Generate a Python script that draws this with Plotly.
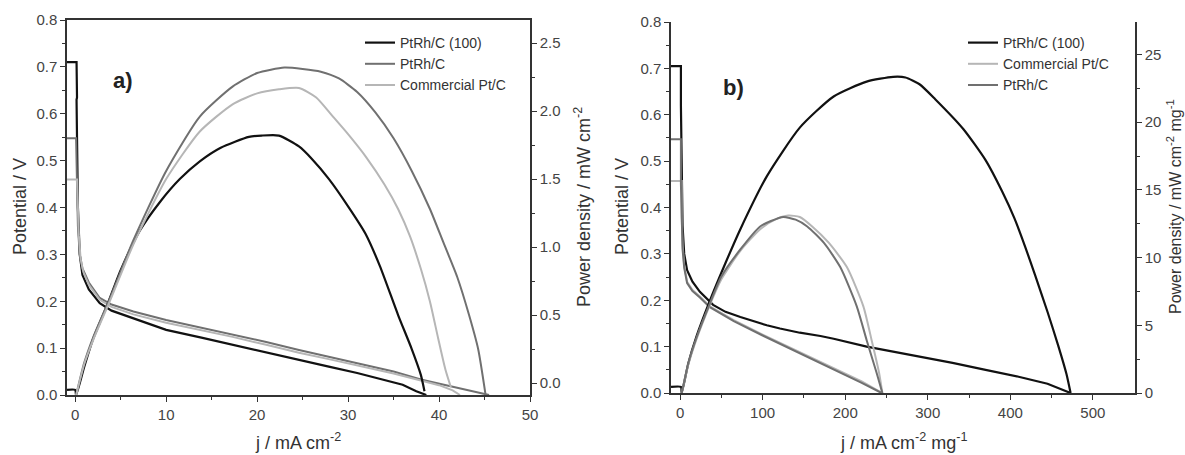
import plotly.graph_objects as go

# ---------------- Panel a data ----------------
# Potential (V) vs j (mA cm-2)
a_j_pot_100 = [-0.9, 0.15, 0.2, 0.15, 0.2, 0.3, 0.5, 0.8, 1.5, 2.7, 4, 6.4, 10, 14, 17.3, 21, 24.6, 28, 31, 34, 36, 37.5, 38.3, 38.6]
a_v_pot_100 = [0.71, 0.71, 0.635, 0.63, 0.55, 0.40, 0.30, 0.256, 0.225, 0.196, 0.18, 0.164, 0.139, 0.122, 0.107, 0.091, 0.075, 0.06, 0.047, 0.032, 0.022, 0.008, 0.002, 0.0]
a_j_pot_rh = [-0.9, 0.1, 0.2, 0.3, 0.5, 0.8, 1.5, 2.7, 4, 6.4, 10, 14, 17.3, 21, 24.6, 28, 31, 35, 38, 41, 43, 45, 45.5]
a_v_pot_rh = [0.548, 0.548, 0.45, 0.36, 0.30, 0.27, 0.24, 0.207, 0.193, 0.178, 0.16, 0.143, 0.13, 0.113, 0.096, 0.081, 0.068, 0.05, 0.033, 0.02, 0.011, 0.003, 0.0]
a_j_pot_pt = [-0.9, 0.2, 0.3, 0.4, 0.6, 0.9, 1.5, 2.7, 4, 6.4, 10, 14, 17.3, 21, 24.6, 28, 31, 35, 38, 40, 41.5, 42.3]
a_v_pot_pt = [0.46, 0.46, 0.40, 0.34, 0.29, 0.262, 0.235, 0.203, 0.188, 0.172, 0.154, 0.138, 0.124, 0.107, 0.09, 0.076, 0.063, 0.046, 0.031, 0.021, 0.01, 0.0]
# Power density (mW cm-2) vs j
a_j_pow_100 = [-0.9, 0.0, 0.1, 1, 2, 3.5, 5, 7.1, 9.3, 11.5, 13.7, 16, 19.1, 20.5, 22.4, 24.6, 26, 27.9, 30, 31.9, 33.5, 35.5, 37, 38, 38.4]
a_p_pow_100 = [-0.05, -0.05, -0.09, 0.12, 0.33, 0.57, 0.83, 1.12, 1.33, 1.5, 1.63, 1.73, 1.81, 1.82, 1.82, 1.74, 1.65, 1.5, 1.3, 1.1, 0.86, 0.5, 0.25, 0.06, -0.06]
a_j_pow_rh = [0.1, 1, 2, 3.8, 6.4, 10, 13.7, 17.3, 20, 23, 25, 27, 29, 31, 33, 35, 37, 39, 40.5, 42, 43.3, 44.3, 45.1]
a_p_pow_rh = [-0.09, 0.15, 0.34, 0.62, 1.05, 1.56, 1.96, 2.18, 2.28, 2.32, 2.31, 2.29, 2.24, 2.14, 1.99, 1.8, 1.56, 1.28, 1.03, 0.78, 0.5, 0.25, -0.08]
a_j_pow_pt = [0.1, 1, 2, 3.8, 6.4, 10, 13.7, 17.3, 20, 22.4, 24.6, 26.5, 28.2, 30, 32, 34, 35.5, 36.8, 38, 39, 39.9, 40.7, 41.3]
a_p_pow_pt = [-0.09, 0.14, 0.32, 0.6, 1.02, 1.5, 1.85, 2.05, 2.13, 2.16, 2.17, 2.1, 1.97, 1.83, 1.66, 1.46, 1.28, 1.08, 0.84, 0.6, 0.33, 0.1, -0.03]

# ---------------- Panel b data ----------------
# Potential (V) vs j (mA cm-2 mg-1)
b_j_pot_100 = [-11, 1, 1, 1.5, 2, 3, 5, 8.5, 15, 24, 40, 55, 73, 105, 121, 145, 170, 186, 226, 267, 300, 330, 370, 410, 445, 473]
b_v_pot_100 = [0.705, 0.705, 0.62, 0.55, 0.45, 0.36, 0.30, 0.265, 0.24, 0.218, 0.19, 0.175, 0.164, 0.146, 0.139, 0.13, 0.123, 0.117, 0.10, 0.086, 0.076, 0.065, 0.05, 0.035, 0.02, 0.0]
b_j_pot_pt = [-11, 2, 2, 3, 5, 8.5, 15, 24, 36, 65, 100, 145, 190, 220, 245]
b_v_pot_pt = [0.457, 0.457, 0.38, 0.32, 0.275, 0.24, 0.222, 0.208, 0.187, 0.157, 0.126, 0.088, 0.05, 0.025, 0.0]
b_j_pot_rh = [-11, 1, 1, 2, 3, 5, 8.5, 15, 24, 36, 65, 100, 145, 190, 220, 244]
b_v_pot_rh = [0.547, 0.547, 0.45, 0.37, 0.31, 0.27, 0.237, 0.22, 0.206, 0.185, 0.155, 0.124, 0.086, 0.048, 0.022, 0.0]
# Power density (mW cm-2 mg-1) vs j
b_j_pow_100 = [-11, 1, 2, 10, 20, 36, 55, 73, 105, 145, 186, 226, 258, 273, 290, 309, 343, 370, 390, 405, 418, 430, 445, 458, 468, 473]
b_p_pow_100 = [0.45, 0.45, 0.0, 2.2, 4.2, 6.8, 9.6, 12.1, 16.0, 19.6, 21.9, 23.0, 23.35, 23.3, 22.8, 21.7, 19.5, 17.2, 14.9, 12.9, 10.8, 8.7, 6.0, 3.5, 1.4, 0.0]
b_j_pow_pt = [2, 10, 20, 36, 50, 73, 97, 115, 131, 145, 160, 180, 202, 222, 232, 241, 245]
b_p_pow_pt = [0.0, 2.1, 4.0, 6.5, 8.4, 10.5, 12.1, 12.8, 13.1, 13.0, 12.3, 11.1, 9.3, 6.4, 3.9, 1.5, 0.0]
b_j_pow_rh = [2, 10, 20, 36, 50, 73, 97, 110, 125, 140, 154, 174, 194, 214, 226, 238, 245]
b_p_pow_rh = [0.0, 2.2, 4.1, 6.6, 8.6, 10.6, 12.3, 12.7, 13.0, 12.8, 12.3, 11.1, 9.3, 6.4, 3.9, 1.5, 0.0]

names_a = ["PtRh/C (100)", "PtRh/C", "Commercial Pt/C"]
names_b = ["PtRh/C (100)", "Commercial Pt/C", "PtRh/C"]

BLACK = "#111111"
DARK = "#707070"
LIGHT = "#b6b6b6"

W, H = 1185, 455
OFF = 0  # body margin removed by post_script
def px(x):
    return (x - OFF) / W
def py(y):
    return 1 - (y - OFF) / H

fig = go.Figure()

def add(x, y, color, xa, ya, name, legend, show, width=2, smooth=False):
    line = dict(color=color, width=width)
    if smooth:
        line.update(shape="spline", smoothing=0.6)
    fig.add_trace(go.Scatter(x=x, y=y, mode="lines", name=name, xaxis=xa, yaxis=ya,
                             line=line, legend=legend, showlegend=show, hoverinfo="skip"))

# Panel a (legend order: 100, PtRh/C, Commercial)
add(a_j_pot_100, a_v_pot_100, BLACK, "x", "y", names_a[0], "legend", True, 2.2)
add(a_j_pot_rh, a_v_pot_rh, DARK, "x", "y", names_a[1], "legend", True)
add(a_j_pot_pt, a_v_pot_pt, LIGHT, "x", "y", names_a[2], "legend", True)
add(a_j_pow_100, a_p_pow_100, BLACK, "x", "y2", names_a[0], "legend", False, 2.2, True)
add(a_j_pow_rh, a_p_pow_rh, DARK, "x", "y2", names_a[1], "legend", False, 2, True)
add(a_j_pow_pt, a_p_pow_pt, LIGHT, "x", "y2", names_a[2], "legend", False, 2, True)

# Panel b (legend order: 100, Commercial, PtRh/C)
add(b_j_pot_100, b_v_pot_100, BLACK, "x2", "y3", names_b[0], "legend2", True, 2.2)
add(b_j_pot_pt, b_v_pot_pt, LIGHT, "x2", "y3", names_b[1], "legend2", True)
add(b_j_pot_rh, b_v_pot_rh, DARK, "x2", "y3", names_b[2], "legend2", True)
add(b_j_pow_100, b_p_pow_100, BLACK, "x2", "y4", names_b[0], "legend2", False, 2.2, True)
add(b_j_pow_pt, b_p_pow_pt, LIGHT, "x2", "y4", names_b[1], "legend2", False, 2, True)
add(b_j_pow_rh, b_p_pow_rh, DARK, "x2", "y4", names_b[2], "legend2", False, 2, True)

FONT = "Liberation Sans, Arial, sans-serif"
TICKF = dict(family=FONT, size=15, color="#444444")
LINEC = "#333333"

axcommon = dict(showline=True, linecolor=LINEC, linewidth=1.5, showgrid=False, zeroline=False,
                automargin=False,
                ticks="outside", ticklen=5, tickwidth=1.2, tickcolor=LINEC, tickfont=TICKF)

dom_ax = [px(67), px(530)]
dom_ay = [py(395), py(20)]
dom_bx = [px(671), px(1135)]
dom_by = [py(393), py(22)]

fig.update_layout(
    width=W, height=H,
    margin=dict(l=0, r=0, t=0, b=0, pad=0, autoexpand=False),
    paper_bgcolor="white", plot_bgcolor="white",
    font=dict(family=FONT, color="#333333"),
    xaxis=dict(domain=dom_ax, anchor="y", range=[-0.9, 50], tickvals=[0, 10, 20, 30, 40, 50],
               mirror=True, minor=dict(tickvals=[5, 15, 25, 35, 45], ticks="outside", ticklen=3, tickcolor=LINEC),
               **axcommon),
    yaxis=dict(domain=dom_ay, anchor="x", range=[0, 0.8], tickvals=[0, 0.1, 0.2, 0.3, 0.4, 0.5, 0.6, 0.7, 0.8],
               tickformat=".1f", minor=dict(dtick=0.05, ticks="outside", ticklen=3, tickcolor=LINEC), **axcommon),
    yaxis2=dict(domain=dom_ay, anchor="x", overlaying="y", side="right", range=[-0.088, 2.67],
                tickvals=[0, 0.5, 1.0, 1.5, 2.0, 2.5], tickformat=".1f",
                minor=dict(tickvals=[0.25, 0.75, 1.25, 1.75, 2.25], ticks="outside", ticklen=3, tickcolor=LINEC),
                **axcommon),
    xaxis2=dict(domain=dom_bx, anchor="y3", range=[-11, 551], tickvals=[0, 100, 200, 300, 400, 500],
                minor=dict(tickvals=[50, 150, 250, 350, 450], ticks="outside", ticklen=3, tickcolor=LINEC),
                **axcommon),
    xaxis3=dict(domain=dom_bx, anchor="y3", overlaying="x2", side="top", range=[-11, 551],
                tickvals=[0, 50, 100, 150, 200, 250, 300, 350, 400, 450, 500], showticklabels=False,
                showline=True, linecolor=LINEC, linewidth=1.5, showgrid=False, zeroline=False,
                automargin=False, ticks="inside", ticklen=5, tickcolor=LINEC),
    yaxis3=dict(domain=dom_by, anchor="x2", range=[0, 0.8], tickvals=[0, 0.1, 0.2, 0.3, 0.4, 0.5, 0.6, 0.7, 0.8],
                tickformat=".1f", minor=dict(dtick=0.05, ticks="outside", ticklen=3, tickcolor=LINEC), **axcommon),
    yaxis4=dict(domain=dom_by, anchor="x2", overlaying="y3", side="right", range=[0, 27.4],
                tickvals=[0, 5, 10, 15, 20, 25],
                minor=dict(tickvals=[2.5, 7.5, 12.5, 17.5, 22.5], ticks="outside", ticklen=3, tickcolor=LINEC),
                **axcommon),
    legend=dict(x=px(360), y=py(27), xanchor="left", yanchor="top", bgcolor="rgba(0,0,0,0)",
                font=dict(family=FONT, size=14, color="#333333"), itemwidth=30),
    legend2=dict(x=px(963), y=py(27), xanchor="left", yanchor="top", bgcolor="rgba(0,0,0,0)",
                 font=dict(family=FONT, size=14, color="#333333"), itemwidth=30),
    showlegend=True,
)

TF = dict(family=FONT, size=18, color="#333333")
ann = [
    dict(text="<b>a)</b>", x=px(123), y=py(80), font=dict(family=FONT, size=22, color="#222222")),
    dict(text="<b>b)</b>", x=px(733), y=py(88), font=dict(family=FONT, size=22, color="#222222")),
    dict(text="Potential / V", x=px(20), y=py(207), textangle=-90, font=TF),
    dict(text="Power density / mW cm<sup>-2</sup>", x=px(583), y=py(207), textangle=-90, font=TF),
    dict(text="j / mA cm<sup>-2</sup>", x=px(298), y=py(441), font=TF),
    dict(text="Potential / V", x=px(622), y=py(207), textangle=-90, font=TF),
    dict(text="Power density / mW cm<sup>-2</sup> mg<sup>-1</sup>", x=px(1174), y=py(207), textangle=-90,
         font=dict(family=FONT, size=16, color="#333333")),
    dict(text="j / mA cm<sup>-2</sup> mg<sup>-1</sup>", x=px(903), y=py(441), font=TF),
]
for a in ann:
    fig.add_annotation(xref="paper", yref="paper", showarrow=False, xanchor="center", yanchor="middle", **a)

fig.write_html("out.html", config={"displayModeBar": False},
               post_script="document.body.style.margin='0';document.body.style.overflow='hidden';")
